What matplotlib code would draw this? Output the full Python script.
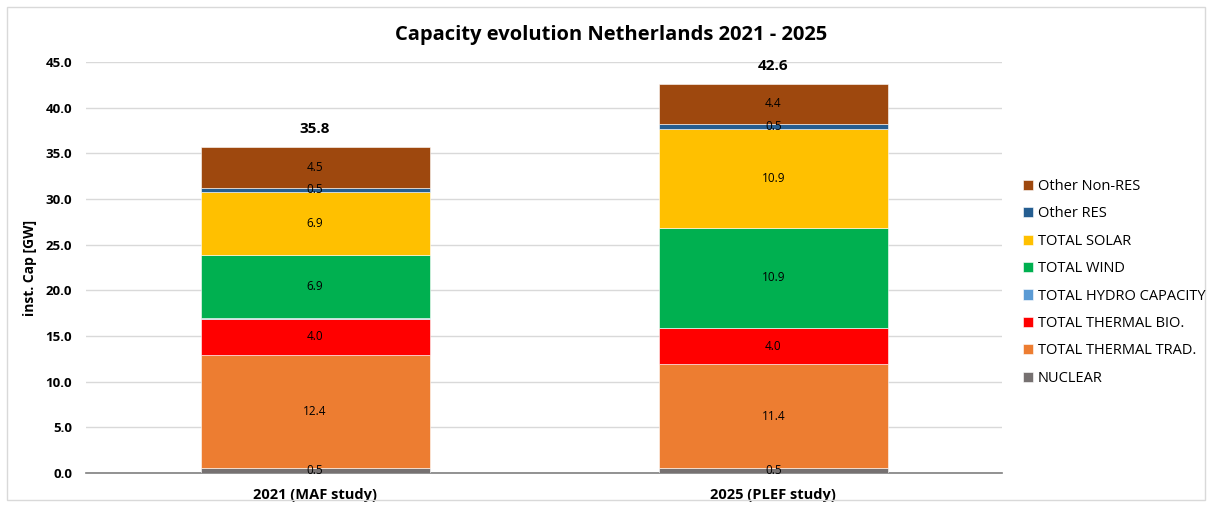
import matplotlib
matplotlib.use("Agg")
import matplotlib.pyplot as plt
from matplotlib.patches import Rectangle
import numpy as np

plt.rcParams['font.family'] = ['Open Sans', 'DejaVu Sans']

categories = ["2021 (MAF study)", "2025 (PLEF study)"]
series_names = ["NUCLEAR", "TOTAL THERMAL TRAD.", "TOTAL THERMAL BIO.", "TOTAL HYDRO CAPACITY",
                "TOTAL WIND", "TOTAL SOLAR", "Other RES", "Other Non-RES"]
nuclear = [0.5, 0.5]
thermal_trad = [12.4, 11.4]
thermal_bio = [4.0, 4.0]
hydro = [0.04, 0.0]
wind = [6.9, 10.9]
solar = [6.9, 10.9]
other_res = [0.5, 0.5]
other_nonres = [4.5, 4.4]
totals = [35.8, 42.6]
yticks = [0, 5, 10, 15, 20, 25, 30, 35, 40, 45]

colors = ["#767171", "#ED7D31", "#FF0000", "#5B9BD5", "#00B050", "#FFC000", "#255E91", "#9E480E"]
series = [nuclear, thermal_trad, thermal_bio, hydro, wind, solar, other_res, other_nonres]

fig = plt.figure(figsize=(12.12, 5.08), dpi=100)
ax = fig.add_axes([0.071, 0.069, 0.756, 0.809])

x = np.arange(len(categories))
bottom = np.zeros(len(categories))
handles = []
for name, vals, c in zip(series_names, series, colors):
    vals = np.array(vals, dtype=float)
    b = ax.bar(x, vals, 0.5, bottom=bottom, color=c, label=name, edgecolor='white', linewidth=0.4, zorder=3)
    handles.append(b)
    for xi, v, bt in zip(x, vals, bottom):
        if v >= 0.3:
            ax.text(xi, bt + v / 2, f"{v:.1f}", ha='center', va='center', fontsize=8.5, color='black', zorder=4)
    bottom += vals

for xi, tot, top in zip(x, totals, bottom):
    ax.text(xi, top + 1.2, f"{tot:.1f}", ha='center', va='bottom', fontsize=11, fontweight='bold')

ax.set_xlim(-0.5, 1.5)
ax.set_ylim(0, 45)
ax.set_yticks(yticks)
ax.set_yticklabels([f"{t:.1f}" for t in yticks], fontsize=9.5, fontweight='bold')
ax.set_xticks(x)
ax.set_xticklabels(categories, fontsize=10.5, fontweight='bold')
ax.tick_params(axis='both', length=0)
ax.tick_params(axis='x', pad=11)
ax.tick_params(axis='y', pad=10)
ax.grid(axis='y', color='#d9d9d9', linewidth=1, zorder=0)
for s in ['top', 'right', 'left']:
    ax.spines[s].set_visible(False)
ax.spines['bottom'].set_color('#7f7f7f')
ax.spines['bottom'].set_linewidth(1.2)
ax.set_ylabel("inst. Cap [GW]", fontsize=10, fontweight='bold', labelpad=6)

ax.set_title("Capacity evolution Netherlands 2021 - 2025", fontsize=14.5, fontweight='bold', pad=16, x=0.573)

leg = fig.legend(handles[::-1], series_names[::-1], loc='center left', bbox_to_anchor=(0.833, 0.444),
                 frameon=False, fontsize=10.5, handlelength=0.7, handleheight=0.7, handletextpad=0.35,
                 labelspacing=0.85)

fig.patches.append(Rectangle((0.006, 0.015), 0.988, 0.972, transform=fig.transFigure,
                             fill=False, edgecolor='#d9d9d9', linewidth=1))

fig.savefig("out.png", dpi=100)
